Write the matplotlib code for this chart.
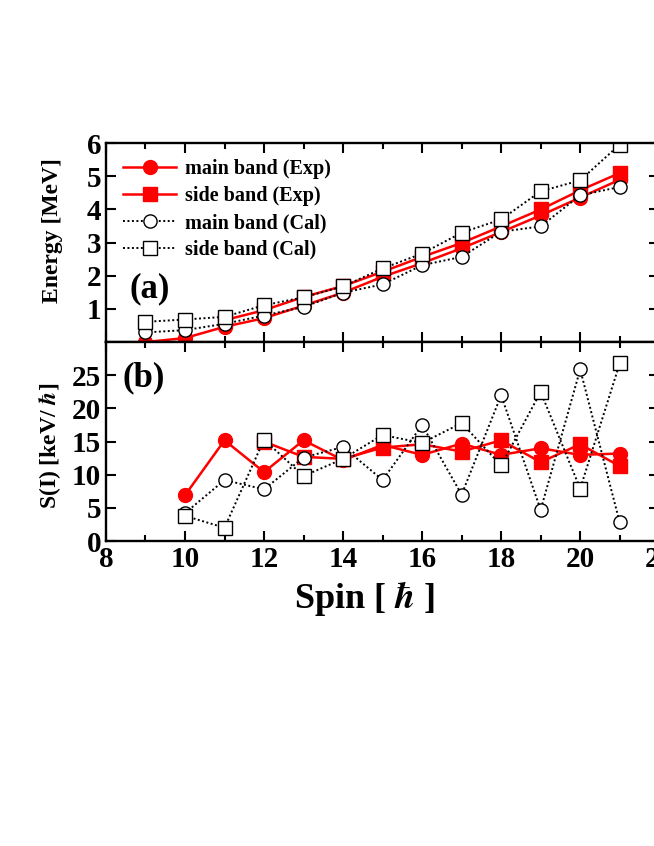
import matplotlib
matplotlib.use("Agg")
import matplotlib.pyplot as plt
from matplotlib.ticker import MultipleLocator

plt.rcParams['font.family'] = ['Liberation Serif', 'DejaVu Serif']
plt.rcParams['font.weight'] = 'bold'
plt.rcParams['mathtext.fontset'] = 'stix'

# panel (a): energies [MeV]
spin_main = [9, 10, 11, 12, 13, 14, 15, 16, 17, 18, 19, 20, 21]
e_main_exp = [0.0, 0.12, 0.46, 0.72, 1.1, 1.49, 1.97, 2.38, 2.83, 3.32, 3.82, 4.36, 4.9]
spin_side = [11, 12, 13, 14, 15, 16, 17, 18, 19, 20, 21]
e_side_exp = [0.66, 0.96, 1.36, 1.69, 2.12, 2.57, 2.99, 3.49, 4.0, 4.58, 5.1]
spin_cal = [9, 10, 11, 12, 13, 14, 15, 16, 17, 18, 19, 20, 21]
e_main_cal = [0.29, 0.36, 0.55, 0.8, 1.06, 1.49, 1.74, 2.32, 2.57, 3.33, 3.49, 4.43, 4.68]
e_side_cal = [0.61, 0.68, 0.76, 1.11, 1.35, 1.68, 2.22, 2.67, 3.3, 3.7, 4.55, 4.88, 5.96]

# panel (b): S(I) [keV/hbar]
s_spin_main = [10, 11, 12, 13, 14, 15, 16, 17, 18, 19, 20, 21]
s_main_exp = [6.9, 15.2, 10.4, 15.2, 12.2, 14.5, 13.0, 14.7, 13.0, 14.0, 13.0, 13.2]
s_spin_side = [12, 13, 14, 15, 16, 17, 18, 19, 20, 21]
s_side_exp = [15.0, 12.7, 12.4, 14.1, 14.6, 13.5, 15.2, 11.9, 14.6, 11.3]
s_spin_cal = [10, 11, 12, 13, 14, 15, 16, 17, 18, 19, 20, 21]
s_main_cal = [4.2, 9.2, 7.8, 12.6, 14.2, 9.2, 17.5, 7.0, 22.0, 4.7, 25.9, 2.8]
s_side_cal = [3.8, 2.0, 15.3, 9.8, 12.4, 16.0, 14.8, 17.8, 11.4, 22.5, 7.9, 26.8]

fig = plt.figure(figsize=(6.54, 8.46), dpi=100)
ax1 = fig.add_axes([0.162, 0.5957, 0.846, 0.235])
ax2 = fig.add_axes([0.162, 0.3605, 0.846, 0.235])

red = dict(color='red', lw=1.8, ms=10)
cal = dict(color='black', lw=1.4, ls=(0, (1, 1.3)), ms=9.5, mfc='white', mec='black', mew=1.0)

ax1.plot(spin_main, e_main_exp, marker='o', label='main band (Exp)', **red)
ax1.plot(spin_side, e_side_exp, marker='s', label='side band (Exp)', **red)
ax1.plot(spin_cal, e_main_cal, marker='o', label='main band (Cal)', **cal)
ax1.plot(spin_cal, e_side_cal, marker='s', label='side band (Cal)', **cal)
ax1.set_ylim(0, 6)
ax1.set_yticks([1, 2, 3, 4, 5, 6])
ax1.set_ylabel('Energy [MeV]', fontsize=17, fontweight='bold')
ax1.yaxis.set_label_coords(-0.078, 0.56)
ax1.text(0.043, 0.27, '(a)', transform=ax1.transAxes, fontsize=25, fontweight='bold',
         va='center')
ax1.legend(loc='upper left', bbox_to_anchor=(0.008, 0.985), frameon=False, handlelength=2.6,
           borderaxespad=0.25, labelspacing=0.34, handletextpad=0.45,
           prop={'weight': 'bold', 'size': 14.5})

ax2.plot(s_spin_main, s_main_exp, marker='o', **red)
ax2.plot(s_spin_side, s_side_exp, marker='s', **red)
ax2.plot(s_spin_cal, s_main_cal, marker='o', **cal)
ax2.plot(s_spin_cal, s_side_cal, marker='s', **cal)
ax2.set_ylim(0, 30)
ax2.set_yticks([0, 5, 10, 15, 20, 25])
ax2.set_ylabel(r'S(I) [keV/ $\hbar$]', fontsize=17, fontweight='bold')
ax2.yaxis.set_label_coords(-0.078, 0.48)
ax2.set_xlabel(r'Spin [ $\hbar$ ]', fontsize=26, fontweight='bold')
ax2.xaxis.set_label_coords(0.467, -0.19)
ax2.text(0.03, 0.82, '(b)', transform=ax2.transAxes, fontsize=25, fontweight='bold',
         va='center')

for ax in (ax1, ax2):
    ax.set_xlim(8, 22)
    ax.xaxis.set_major_locator(MultipleLocator(2))
    ax.xaxis.set_minor_locator(MultipleLocator(1))
    ax.tick_params(which='both', direction='in', top=True, right=True, width=1.5)
    ax.tick_params(which='major', length=7, labelsize=21)
    ax.tick_params(which='minor', length=4.5)
    for sp in ax.spines.values():
        sp.set_linewidth(1.7)
    for lbl in ax.get_xticklabels() + ax.get_yticklabels():
        lbl.set_fontweight('bold')

ax1.tick_params(labelbottom=False)

fig.savefig('out.png', dpi=100)
